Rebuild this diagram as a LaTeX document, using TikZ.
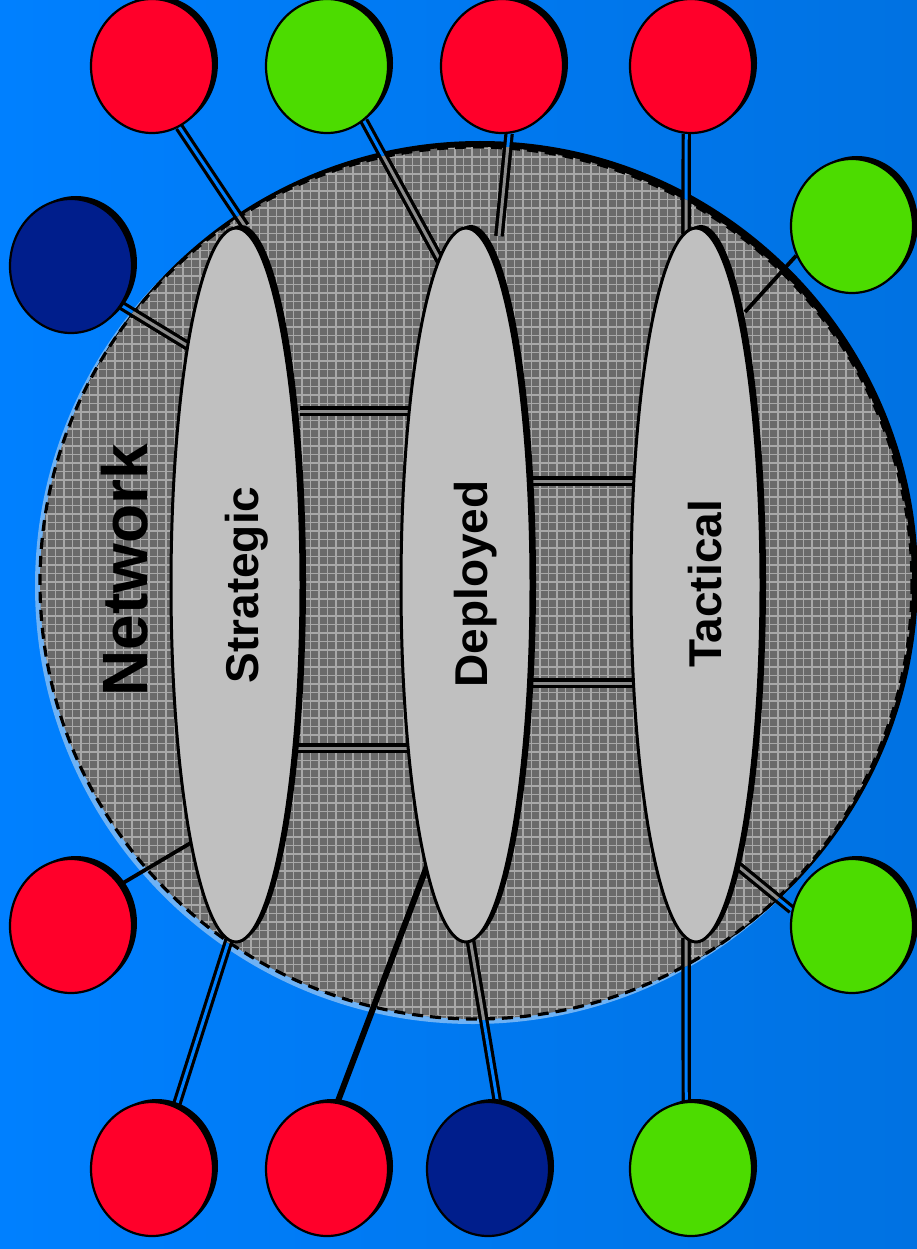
\documentclass[tikz,border=0pt]{standalone}
\usepackage{fontspec}
\setmainfont{Liberation Sans}
\usetikzlibrary{shapes.geometric,shadows}
\definecolor{bgL}{RGB}{0,128,255}
\definecolor{bgR}{RGB}{0,114,226}
\definecolor{nred}{RGB}{255,0,42}
\definecolor{ngreen}{RGB}{76,220,0}
\definecolor{nblue}{RGB}{0,30,140}
\definecolor{ellfill}{RGB}{192,192,192}
\definecolor{hatchbase}{RGB}{106,106,106}
\definecolor{hatchline}{RGB}{168,168,168}
\definecolor{hatchgap}{RGB}{140,140,140}
\definecolor{hilite}{RGB}{110,178,245}
\pgfdeclarelayer{back}\pgfdeclarelayer{links}\pgfsetlayers{back,links,main}
\tikzset{
 shad/.style={drop shadow={shadow xshift=5pt,shadow yshift=3pt,opacity=1,fill=black}},
 blob/.style={ellipse, minimum width=122pt, minimum height=134pt, inner sep=0pt, draw=black, line width=2.2pt, shad, fill=#1},
 tier/.style={ellipse, minimum width=130pt, minimum height=714pt, inner sep=0pt, draw=black, line width=3pt, fill=ellfill, shad},
 lbl/.style={rotate=90, font=\fontsize{46}{46}\selectfont\bfseries, inner sep=0pt},
 dbl/.style={line width=3.2pt, double distance=3pt},
 sgl/.style={line width=3.8pt},
 hline/.style={hatchline, line width=1.1pt},
}
\newcommand{\drawlinks}[1]{%
 \draw[dbl,double=#1] (r1.-66.6) -- (c1);
 \draw[dbl,double=#1] (g1.-56.6) -- (c2);
 \draw[dbl,double=#1] (r2.-84.7) -- (c3);
 \draw[dbl,double=#1] (r3.-94.3) -- (c4);
 \draw[dbl,double=#1] (b1.-38.7) -- (c6);
 \draw[dbl,double=#1] (c7a) -- (c7b);
 \draw[dbl,double=#1] (c8a) -- (c8b);
 \draw[dbl,double=#1] (c9a) -- (c9b);
 \draw[dbl,double=#1] (c10a) -- (c10b);
 \draw[dbl,double=#1] (r5.69) -- (c12);
 \draw[dbl,double=#1] (b2.82.5) -- (c14);
 \draw[dbl,double=#1] (g3.94.2) -- (c15);
 \draw[dbl,double=#1] (g4.165) -- (c16);
}
\begin{document}
\begin{tikzpicture}[x=1pt,y=-1pt]
\useasboundingbox (0,0) rectangle (917,1249);
% tiers
\node[tier] (S) at (236,585) {};
\node[tier] (D) at (466,585) {};
\node[tier] (T) at (696,585) {};
% outer nodes
\node[blob=nred]   (r1) at (152,66) {};
\node[blob=ngreen] (g1) at (327,66) {};
\node[blob=nred]   (r2) at (502,66) {};
\node[blob=nred]   (r3) at (691,66) {};
\node[blob=ngreen] (g2) at (852,226) {};
\node[blob=nblue]  (b1) at (71,266) {};
\node[blob=nred]   (r4) at (71,926) {};
\node[blob=ngreen] (g4) at (852,926) {};
\node[blob=nred]   (r5) at (152,1169) {};
\node[blob=nred]   (r6) at (327,1169) {};
\node[blob=nblue]  (b2) at (488,1169) {};
\node[blob=ngreen] (g3) at (691,1169) {};
% labels
\node[lbl, font=\fontsize{64}{64}\selectfont\bfseries] (net) at (125,570) {Network};
\node[lbl] (ls) at (247,585) {Strategic};
\node[lbl] (ld) at (476,584) {Deployed};
\node[lbl] (lt) at (705,584) {Tactical};
% link end points
\coordinate (c1) at (245,226);
\coordinate (c2) at (441,262);
\coordinate (c3) at (499,236);
\coordinate (c4) at (686,234);
\coordinate (c5) at (745,312);
\coordinate (c6) at (188,346);
\coordinate (c7a) at (300,411);  \coordinate (c7b) at (412,411);
\coordinate (c8a) at (296,748);  \coordinate (c8b) at (412,748);
\coordinate (c9a) at (528,481);  \coordinate (c9b) at (640,481);
\coordinate (c10a) at (528,683); \coordinate (c10b) at (640,683);
\coordinate (c11) at (194,841);
\coordinate (c12) at (229,940);
\coordinate (c13) at (427,866);
\coordinate (c14) at (470,938);
\coordinate (c15) at (686,938);
\coordinate (c16) at (738,866);
\begin{pgfonlayer}{links}
 \drawlinks{bgL}
 \begin{scope}
  \clip (476,583) circle[radius=437];
  \drawlinks{hatchgap}
 \end{scope}
 \draw[sgl] (g2.-152.2) -- (c5);
 \draw[sgl] (r4.40.9) -- (c11);
 \draw[line width=6pt] (r6.81.6) -- (c13);
\end{pgfonlayer}
\begin{pgfonlayer}{back}
 \shade[left color=bgL, right color=bgR] (0,0) rectangle (917,1249);
 \fill[hilite] (473,586) circle[radius=438];
 \fill[black] (480,579) circle[radius=438];
 \begin{scope}
  \clip (476,583) circle[radius=436];
  \fill[hatchbase] (30,140) rectangle (920,1030);
  \foreach \k in {0,...,105} {
    \draw[hline] (30,140+8.5*\k) -- (920,140+8.5*\k);
    \draw[hline] (30+8.5*\k,140) -- (30+8.5*\k,1030);
  }
 \end{scope}
 \draw[black, line width=3.2pt, dash pattern=on 11pt off 7pt] (476,583) circle[radius=436];
\end{pgfonlayer}
\end{tikzpicture}
\end{document}
